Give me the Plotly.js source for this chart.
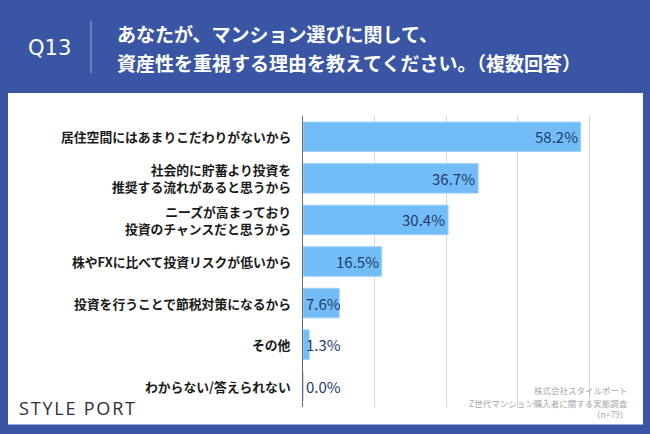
<!DOCTYPE html>
<html>
<head>
<meta charset="utf-8">
<script src="https://cdn.plot.ly/plotly-3.0.1.min.js"></script>
<style>html,body{margin:0;padding:0;background:#3a55a4;}#chart{width:650px;height:434px;}</style>
</head>
<body>
<div id="chart"></div>
<script>
// ---- data ----
const categories = [
  "居住空間にはあまりこだわりがないから",
  "社会的に貯蓄より投資を<br>推奨する流れがあると思うから",
  "ニーズが高まっており<br>投資のチャンスだと思うから",
  "株やFXに比べて投資リスクが低いから",
  "投資を行うことで節税対策になるから",
  "その他",
  "わからない/答えられない"
];
const values = [58.2, 36.7, 30.4, 16.5, 7.6, 1.3, 0.0];
const questionNo = "Q13";
const titleLines = ["あなたが、マンション選びに関して、", "資産性を重視する理由を教えてください。（複数回答）"];
const sourceLines = ["株式会社スタイルポート", "Z世代マンション購入者に関する実態調査", "（n=79）"];
const logoText = "STYLE PORT";

// ---- layout geometry ----
const FW = 650, FH = 434;
const M = {l: 303, r: 13, t: 116, b: 26.5};
const PW = FW - M.l - M.r, PH = FH - M.t - M.b;
const px = v => (v - M.l) / PW;
const py = v => (FH - M.b - v) / PH;
const JP = "Noto Sans CJK JP, Noto Sans, sans-serif";

const annotations = [];
// question number
annotations.push({xref:'paper', yref:'paper', x:px(49), y:py(48), text:questionNo, showarrow:false,
  xanchor:'center', yanchor:'middle', font:{family:'DejaVu Sans, sans-serif', size:21, color:'#ffffff'}});
// title lines
const titleY = [33, 62];
titleLines.forEach((t, i) => annotations.push({xref:'paper', yref:'paper', x:px(115), y:py(titleY[i]), text:t,
  showarrow:false, xanchor:'left', yanchor:'middle', font:{family:JP, size:19, color:'#ffffff', weight:'bold'}}));
// category labels
categories.forEach((c, i) => {
  annotations.push({xref:'x', yref:'y', x:0, y:i, xshift:-10, text:c, showarrow:false, align:'right',
    xanchor:'right', yanchor:'middle', font:{family:JP, size:12.8, color:'#1a1a1a', weight:'bold'}});
});
// value labels
values.forEach((v, i) => {
  const inside = v >= 9;
  annotations.push({xref:'x', yref:'y', x: inside ? v : 0, y:i, xshift: inside ? -1 : 1,
    text: v.toFixed(1) + '%', showarrow:false, xanchor: inside ? 'right' : 'left', yanchor:'middle',
    font:{family:JP, size:15, color:'#25396a'}});
});
// source
const srcY = [390.5, 403.3, 414.5];
sourceLines.forEach((s, i) => annotations.push({xref:'paper', yref:'paper', x:px(630), y:py(srcY[i]), text:s,
  showarrow:false, xanchor:'right', yanchor:'middle', font:{family:JP, size:8.5, color:'#a8a8a8'}}));
// logo
annotations.push({xref:'paper', yref:'paper', x:px(17), y:py(409), text:logoText.split('').join('\u200A'),
  showarrow:false, xanchor:'left', yanchor:'middle', font:{family:'Open Sans, sans-serif', size:18, color:'#2b2f3d'}});

const shapes = [
  {type:'rect', xref:'paper', yref:'paper', x0:px(8), x1:px(643), y0:py(425), y1:py(93),
    fillcolor:'#ffffff', line:{width:0}, layer:'below'},
  {type:'line', xref:'paper', yref:'paper', x0:px(91), x1:px(91), y0:py(21), y1:py(73),
    line:{color:'#9aa8d6', width:1}}
];

const trace = {
  type:'bar', orientation:'h', y:categories.map((c, i) => i), x:values,
  marker:{color:'#72bdf7', line:{color:'#9fd2fb', width:1}},
  hoverinfo:'none'
};

const layout = {
  width:FW, height:FH, margin:M,
  paper_bgcolor:'#3a55a4', plot_bgcolor:'rgba(0,0,0,0)',
  showlegend:false, bargap:0.29,
  xaxis:{range:[0,70], dtick:15, tick0:0, showgrid:true, gridcolor:'#d6d6d6', gridwidth:1,
    zeroline:false, showticklabels:false, showline:false, fixedrange:true},
  yaxis:{range:[6.5,-0.5], showticklabels:false, showgrid:false, zeroline:false,
    showline:true, linecolor:'#6b6b6b', linewidth:1, fixedrange:true},
  annotations:annotations, shapes:shapes
};

Plotly.newPlot('chart', [trace], layout, {displayModeBar:false, staticPlot:true});
</script>
</body>
</html>
